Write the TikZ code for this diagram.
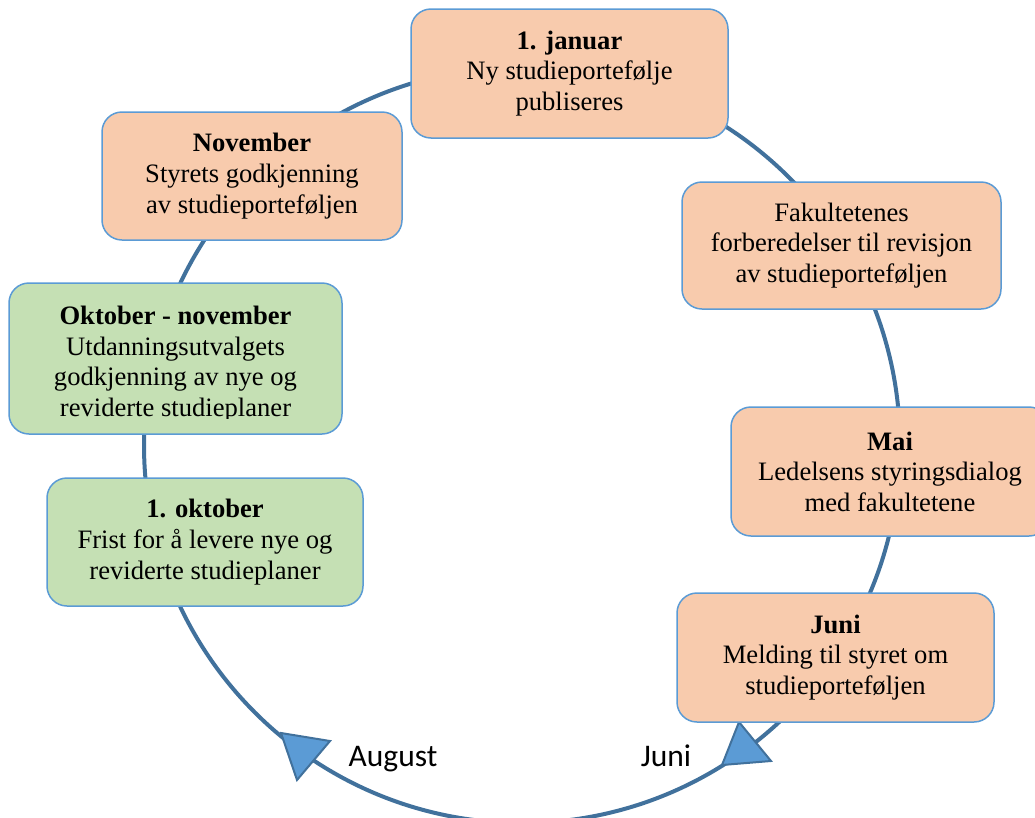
\documentclass[tikz,border=0pt]{standalone}
\usepackage{fontspec}
\setmainfont{Liberation Serif}
\newfontfamily\calibrifont{Carlito}
\definecolor{orfill}{HTML}{F8CBAD}
\definecolor{grfill}{HTML}{C5E0B4}
\definecolor{bord}{HTML}{5B9BD5}
\definecolor{ring}{HTML}{41719C}
\definecolor{trifill}{HTML}{5B9BD5}
\begin{document}
\begin{tikzpicture}[x=1pt,y=-1pt,
  box/.style={draw=bord, line width=1.5pt, rounded corners=20pt, align=center,
    font=\fontsize{26.6}{30.6}\selectfont, inner sep=0pt},
  orbox/.style={box, fill=orfill},
  grbox/.style={box, fill=grfill},
  txt/.style={align=center, font=\fontsize{26.6}{30.6}\selectfont, inner sep=0pt},
  ringline/.style={draw=ring, line width=4pt},
  arrowtri/.style={fill=trifill, draw=ring, line width=2pt, line join=miter},
  month/.style={font=\calibrifont\fontsize{31.5}{36}\selectfont, anchor=base, inner sep=0pt}]
\useasboundingbox (0,0) rectangle (1035,817);
% ring
\coordinate (ctr) at (522,445);
\draw[ringline] (ctr) circle [radius=378pt];
% arrow heads on the ring
\coordinate (tipL) at (281,733);
\coordinate (tipR) at (722,765);
\filldraw[arrowtri] (tipL) -- (330,741) -- (297,780) -- cycle;
\filldraw[arrowtri] (tipR) -- (739,722) -- (771,761) -- cycle;
% boxes
\node[orbox, minimum width=317pt, minimum height=129pt] (jan) at (569.5,73.5)
  {\textbf{1. januar}\\Ny studieportefølje\\publiseres};
\node[orbox, minimum width=300pt, minimum height=128pt] (nov) at (252,176)
  {\textbf{November}\\Styrets godkjenning\\av studieporteføljen};
\node[orbox, minimum width=319pt, minimum height=127pt] (fak) at (841.5,245.5)
  {Fakultetenes\\forberedelser til revisjon\\av studieporteføljen};
\node[orbox, minimum width=318pt, minimum height=129pt] (mai) at (890,471.5)
  {\textbf{Mai}\\Ledelsens styringsdialog\\med fakultetene};
\node[orbox, minimum width=317pt, minimum height=129pt] (juni) at (835.5,657.5)
  {\textbf{Juni}\\Melding til styret om\\studieporteføljen};
\node[grbox, minimum width=316pt, minimum height=128pt] (okt) at (205,542)
  {\textbf{1. oktober}\\Frist for å levere nye og\\reviderte studieplaner};
\node[grbox, minimum width=333pt, minimum height=151pt] (oktnov) at (175.5,358.5) {};
\begin{scope}
  \clip (9,283) rectangle (342,418);
  \node[txt] (oktnovtxt) at (175.5,364)
    {\textbf{Oktober - november}\\Utdanningsutvalgets\\godkjenning av nye og\\reviderte studieplaner};
\end{scope}
% month labels
\node[month] (aug) at (393,766) {August};
\node[month] (jun) at (666,766) {Juni};
\end{tikzpicture}
\end{document}
